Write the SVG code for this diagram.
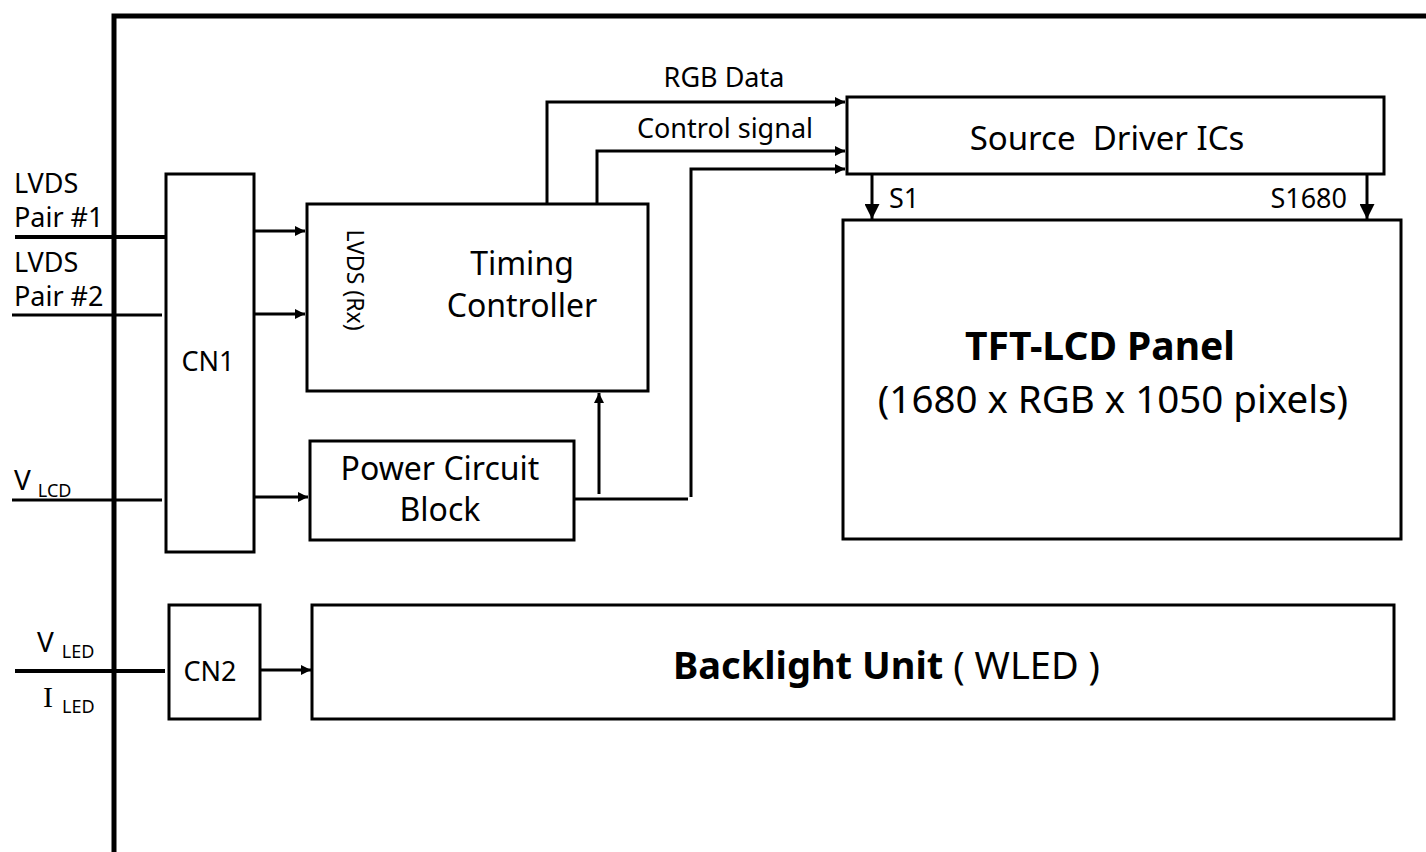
<svg xmlns="http://www.w3.org/2000/svg" width="1426" height="852" viewBox="0 0 1426 852">
<defs>
<style>
text{font-family:"Noto Sans","Open Sans","DejaVu Sans",sans-serif;fill:#000}
.box{fill:#fff;stroke:#000;stroke-width:3}
.ln{fill:none;stroke:#000;stroke-width:3}
.lbl{font-size:27px}
.mid{text-anchor:middle}
.big{font-size:32px}
.sub{font-size:18px}
</style>
<marker id="ah" viewBox="0 0 10 10" refX="10" refY="5" markerWidth="11" markerHeight="10" markerUnits="userSpaceOnUse" orient="auto">
<path d="M0,0 L10,5 L0,10 Z" fill="#000"/>
</marker>
<marker id="ahb" viewBox="0 0 10 10" refX="10" refY="5" markerWidth="16" markerHeight="15" markerUnits="userSpaceOnUse" orient="auto">
<path d="M0,0 L10,5 L0,10 Z" fill="#000"/>
</marker>
</defs>
<rect width="1426" height="852" fill="#fff"/>

<g id="frame">
<path d="M114,852 V16 H1426" fill="none" stroke="#000" stroke-width="5"/>
</g>

<g id="inputs">
<text class="lbl" x="14" y="193">LVDS</text>
<text class="lbl" x="14" y="227">Pair #1</text>
<text class="lbl" x="14" y="272">LVDS</text>
<text class="lbl" x="14" y="306">Pair #2</text>
<text x="14" y="490" style="font-size:28px">V<tspan class="sub" dx="7" dy="7">LCD</tspan></text>
<text x="37" y="652" style="font-size:28px">V<tspan class="sub" dx="8" dy="6">LED</tspan></text>
<text x="43" y="707" style="font-family:'Liberation Serif',serif;font-size:30px">I<tspan style="font-family:'Noto Sans',sans-serif;font-size:18px" dx="9" dy="6">LED</tspan></text>
</g>

<g id="connectors">
<line x1="15" y1="237" x2="166" y2="237" stroke="#000" stroke-width="4"/>
<line x1="12" y1="315" x2="162" y2="315" stroke="#000" stroke-width="3"/>
<line x1="12" y1="500" x2="162" y2="500" stroke="#000" stroke-width="3"/>
<line x1="15" y1="671" x2="165" y2="671" stroke="#000" stroke-width="4"/>
<line class="ln" x1="254" y1="231" x2="305" y2="231" marker-end="url(#ah)"/>
<line class="ln" x1="254" y1="314" x2="305" y2="314" marker-end="url(#ah)"/>
<line class="ln" x1="254" y1="497" x2="308" y2="497" marker-end="url(#ah)"/>
<line class="ln" x1="260" y1="670" x2="311" y2="670" marker-end="url(#ah)"/>
<path class="ln" d="M547,204 V102 H845" stroke-width="4" marker-end="url(#ah)"/>
<path class="ln" d="M597,204 V151 H845" stroke-width="4" marker-end="url(#ah)"/>
<path class="ln" d="M571,499 H688"/>
<path class="ln" d="M691,497 V169 H845" marker-end="url(#ah)"/>
<line class="ln" x1="599" y1="494" x2="599" y2="393" marker-end="url(#ah)"/>
<line class="ln" x1="872" y1="174" x2="872" y2="219" marker-end="url(#ahb)"/>
<line class="ln" x1="1367" y1="174" x2="1367" y2="219" marker-end="url(#ahb)"/>
<text class="lbl mid" x="724" y="87">RGB Data</text>
<text class="lbl mid" x="725" y="138">Control signal</text>
<text class="lbl" x="889" y="208">S1</text>
<text class="lbl" x="1347" y="208" text-anchor="end">S1680</text>
</g>

<g id="cn1">
<rect class="box" x="166" y="174" width="88" height="378"/>
<text class="lbl mid" x="208" y="371">CN1</text>
</g>

<g id="timing-controller">
<rect class="box" x="307" y="204" width="341" height="187"/>
<text class="mid" x="0" y="0" style="font-size:23px" transform="translate(347,280) rotate(90)">LVDS (Rx)</text>
<text class="big mid" x="522" y="275">Timing</text>
<text class="big mid" x="522" y="317">Controller</text>
</g>

<g id="power-circuit">
<rect class="box" x="310" y="441" width="264" height="99"/>
<text class="mid" x="440" y="480" style="font-size:32px">Power Circuit</text>
<text class="mid" x="440" y="521" style="font-size:32px">Block</text>
</g>

<g id="source-driver">
<rect class="box" x="847" y="97" width="537" height="77"/>
<text class="mid" x="1107" y="150" style="font-size:33px" xml:space="preserve">Source  Driver ICs</text>
</g>

<g id="tft-panel">
<rect class="box" x="843" y="220" width="558" height="319"/>
<text class="mid" x="1100" y="360" style="font-size:39px;font-weight:bold">TFT-LCD Panel</text>
<text class="mid" x="1113" y="413" style="font-size:38.5px">(1680 x RGB x 1050 pixels)</text>
</g>

<g id="cn2">
<rect class="box" x="169" y="605" width="91" height="114"/>
<text class="lbl mid" x="210" y="681">CN2</text>
</g>

<g id="backlight">
<rect class="box" x="312" y="605" width="1082" height="114"/>
<text x="673" y="679" style="font-size:38px"><tspan style="font-weight:bold">Backlight Unit</tspan><tspan dx="10">( WLED )</tspan></text>
</g>
</svg>
